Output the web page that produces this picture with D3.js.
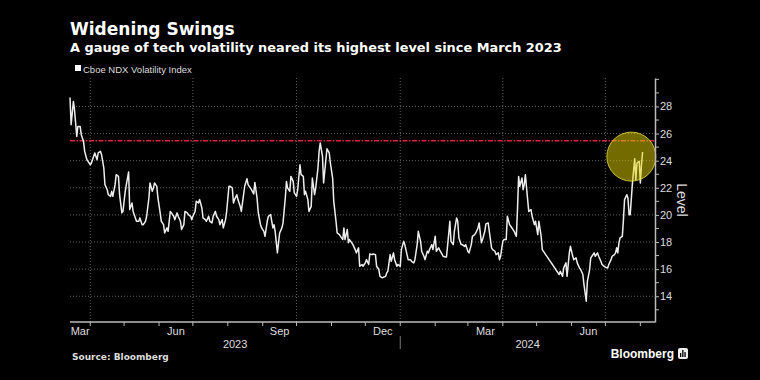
<!DOCTYPE html>
<html>
<head>
<meta charset="utf-8">
<script src="https://cdn.jsdelivr.net/npm/d3@7"></script>
<style>
  body { margin: 0; background: #000; }
  svg { display: block; font-family: "Liberation Sans", Arial, sans-serif; }
</style>
</head>
<body>
<div class="chart"></div>
<script>
// Cboe NDX Volatility Index
var dates = [
  "2023-03-14","2023-03-15","2023-03-17","2023-03-18","2023-03-20","2023-03-21","2023-03-23","2023-03-24","2023-03-26","2023-03-27",
  "2023-03-29","2023-03-30","2023-04-01","2023-04-02","2023-04-04","2023-04-05","2023-04-07","2023-04-08","2023-04-10","2023-04-11",
  "2023-04-13","2023-04-14","2023-04-16","2023-04-17","2023-04-19","2023-04-20","2023-04-21","2023-04-23","2023-04-24","2023-04-26",
  "2023-04-27","2023-04-29","2023-04-30","2023-05-02","2023-05-03","2023-05-05","2023-05-06","2023-05-08","2023-05-09","2023-05-11",
  "2023-05-12","2023-05-14","2023-05-15","2023-05-17","2023-05-18","2023-05-20","2023-05-21","2023-05-23","2023-05-24","2023-05-26",
  "2023-05-27","2023-05-28","2023-05-30","2023-05-31","2023-06-02","2023-06-03","2023-06-05","2023-06-06","2023-06-08","2023-06-09",
  "2023-06-11","2023-06-12","2023-06-14","2023-06-15","2023-06-17","2023-06-18","2023-06-20","2023-06-21","2023-06-23","2023-06-24",
  "2023-06-26","2023-06-27","2023-06-29","2023-06-30","2023-07-01","2023-07-03","2023-07-04","2023-07-06","2023-07-07","2023-07-09",
  "2023-07-10","2023-07-12","2023-07-13","2023-07-15","2023-07-16","2023-07-18","2023-07-19","2023-07-21","2023-07-22","2023-07-24",
  "2023-07-25","2023-07-27","2023-07-28","2023-07-30","2023-07-31","2023-08-02","2023-08-03","2023-08-05","2023-08-06","2023-08-07",
  "2023-08-09","2023-08-10","2023-08-12","2023-08-13","2023-08-15","2023-08-16","2023-08-18","2023-08-19","2023-08-21","2023-08-22",
  "2023-08-24","2023-08-25","2023-08-27","2023-08-28","2023-08-30","2023-08-31","2023-09-02","2023-09-03","2023-09-05","2023-09-06",
  "2023-09-08","2023-09-09","2023-09-10","2023-09-11","2023-09-12","2023-09-14","2023-09-16","2023-09-18","2023-09-19","2023-09-21",
  "2023-09-22","2023-09-23","2023-09-25","2023-09-26","2023-09-28","2023-09-29","2023-10-01","2023-10-02","2023-10-04","2023-10-05",
  "2023-10-07","2023-10-08","2023-10-09","2023-10-11","2023-10-12","2023-10-14","2023-10-15","2023-10-17","2023-10-18","2023-10-20",
  "2023-10-21","2023-10-22","2023-10-24","2023-10-25","2023-10-27","2023-10-28","2023-10-30","2023-10-31","2023-11-02","2023-11-03",
  "2023-11-05","2023-11-06","2023-11-08","2023-11-09","2023-11-11","2023-11-12","2023-11-13","2023-11-15","2023-11-16","2023-11-17",
  "2023-11-19","2023-11-20","2023-11-22","2023-11-23","2023-11-25","2023-11-26","2023-11-28","2023-11-29","2023-12-01","2023-12-02",
  "2023-12-04","2023-12-05","2023-12-07","2023-12-08","2023-12-10","2023-12-11","2023-12-13","2023-12-14","2023-12-16","2023-12-17",
  "2023-12-19","2023-12-20","2023-12-21","2023-12-23","2023-12-24","2023-12-26","2023-12-27","2023-12-29","2023-12-30","2024-01-01",
  "2024-01-02","2024-01-04","2024-01-05","2024-01-07","2024-01-08","2024-01-10","2024-01-11","2024-01-13","2024-01-14","2024-01-16",
  "2024-01-17","2024-01-19","2024-01-20","2024-01-22","2024-01-23","2024-01-25","2024-01-26","2024-01-27","2024-01-29","2024-01-30",
  "2024-02-01","2024-02-02","2024-02-04","2024-02-05","2024-02-07","2024-02-08","2024-02-10","2024-02-11","2024-02-13","2024-02-14",
  "2024-02-15","2024-02-17","2024-02-18","2024-02-20","2024-02-21","2024-02-22","2024-02-24","2024-02-25","2024-02-27","2024-02-28",
  "2024-03-01","2024-03-02","2024-03-04","2024-03-05","2024-03-07","2024-03-08","2024-03-10","2024-03-11","2024-03-13","2024-03-14",
  "2024-03-16","2024-03-17","2024-03-19","2024-03-20","2024-03-22","2024-03-23","2024-03-25","2024-03-26","2024-03-28","2024-03-29",
  "2024-03-30","2024-04-01","2024-04-02","2024-04-04","2024-04-05","2024-04-07","2024-04-08","2024-04-10","2024-04-11","2024-04-13",
  "2024-04-14","2024-04-15","2024-04-16","2024-04-18","2024-04-19","2024-04-20","2024-04-21","2024-04-23","2024-04-24","2024-04-26",
  "2024-04-27","2024-04-29","2024-04-30","2024-05-02","2024-05-03","2024-05-05","2024-05-06","2024-05-08","2024-05-09","2024-05-11",
  "2024-05-12","2024-05-14","2024-05-15","2024-05-17","2024-05-18","2024-05-19","2024-05-21","2024-05-22","2024-05-24","2024-05-25",
  "2024-05-27","2024-05-28","2024-05-30","2024-05-31","2024-06-02","2024-06-03","2024-06-05","2024-06-06","2024-06-08","2024-06-09",
  "2024-06-11","2024-06-12","2024-06-14","2024-06-15","2024-06-17","2024-06-18","2024-06-19","2024-06-21","2024-06-22","2024-06-24",
  "2024-06-25","2024-06-27","2024-06-28","2024-06-30","2024-07-01","2024-07-03","2024-07-04","2024-07-06","2024-07-07","2024-07-09",
  "2024-07-10","2024-07-11","2024-07-12","2024-07-13","2024-07-14","2024-07-16","2024-07-17","2024-07-18","2024-07-20","2024-07-21",
  "2024-07-22","2024-07-23","2024-07-25","2024-07-27","2024-07-28","2024-07-29","2024-07-31","2024-08-01","2024-08-02","2024-08-03"
];
var values = [
  28.66,26.65,28.37,27.76,25.79,26.53,26.53,25.92,25.42,24.69,
  24.07,23.95,23.70,23.83,24.32,24.57,24.07,24.57,24.69,24.44,
  23.46,22.23,21.86,21.49,21.37,21.74,21.37,22.23,22.97,22.84,
  21.49,20.15,20.26,21.74,22.23,23.17,20.39,20.88,20.26,19.78,
  19.53,19.53,19.78,19.28,19.28,19.53,19.90,21.25,22.36,21.74,
  21.99,22.36,22.11,21.25,20.15,19.53,19.28,18.67,19.04,18.79,
  20.26,20.15,19.90,19.65,20.15,19.90,19.53,18.92,19.28,20.26,
  20.15,20.02,19.90,19.65,19.90,20.26,21.00,20.88,21.13,20.51,
  19.78,19.65,19.53,19.90,19.53,19.41,19.90,20.26,19.90,19.65,
  19.28,19.65,19.04,19.65,20.26,22.11,22.11,21.99,20.88,21.13,
  21.49,21.13,20.63,20.26,21.49,22.11,22.67,22.23,21.99,21.86,
  21.55,22.40,21.20,20.20,19.28,19.04,18.79,18.42,19.53,19.90,
  20.02,19.53,19.04,19.28,18.79,17.20,18.67,19.04,19.41,21.25,
  22.47,21.99,21.74,22.84,22.47,21.62,21.37,21.86,23.70,22.97,
  22.84,21.49,21.74,21.13,20.26,20.63,22.72,21.49,21.99,23.46,
  24.69,25.30,24.32,22.36,24.07,24.88,24.57,23.83,22.72,21.00,
  19.53,18.67,18.55,18.42,18.18,19.04,18.18,18.92,17.94,18.18,
  17.94,17.81,17.44,17.20,17.57,16.21,16.34,16.21,16.46,16.70,
  16.34,17.12,17.07,17.12,17.07,16.21,15.97,15.47,15.36,15.40,
  15.47,15.72,15.84,17.07,16.58,17.20,16.70,16.21,16.34,16.21,
  17.44,18.05,17.81,17.07,16.70,16.70,16.58,16.46,16.70,17.81,
  18.79,18.05,17.32,16.95,16.70,17.32,17.20,17.44,17.81,17.44,
  18.42,17.32,17.57,17.40,17.10,16.95,16.90,16.90,18.60,19.53,
  18.05,17.81,18.79,19.78,19.53,18.30,17.81,17.81,17.68,17.81,
  17.32,17.20,17.81,18.42,18.55,18.67,19.04,19.41,17.94,18.18,
  18.79,19.34,19.41,18.79,17.57,17.44,17.32,17.07,17.20,16.70,
  16.95,18.05,18.18,18.18,19.90,19.28,19.16,18.92,18.79,18.42,
  20.39,22.84,22.11,22.72,21.86,22.23,22.97,21.13,20.26,20.39,
  19.90,19.28,19.53,18.55,19.53,18.42,17.44,17.20,17.07,16.83,
  16.70,16.46,16.34,16.09,15.97,15.84,15.60,15.84,15.47,16.09,
  16.46,15.47,17.20,17.68,16.95,16.70,16.83,16.46,16.09,15.97,
  15.60,14.86,13.63,15.10,15.97,16.83,16.95,17.20,16.95,17.20,
  16.95,16.58,16.34,16.21,16.14,16.09,16.34,16.70,16.95,17.07,
  17.20,17.57,17.20,17.94,18.30,18.42,19.65,21.13,21.49,21.25,
  20.02,20.02,22.36,24.15,22.60,23.83,23.95,22.36,23.70,24.64
];

var yTicks = [14, 16, 18, 20, 22, 24, 26, 28];
var yMinorTicks = [13, 15, 17, 19, 21, 23, 25, 27, 29, 30];
var refLevel = 25.47;            // dash-dot line, March 2023 level
var highlightDate = "2024-07-24"; // yellow circle
var highlightValue = 24.3;

var title = "Widening Swings";
var subtitle = "A gauge of tech volatility neared its highest level since March 2023";
var legendLabel = "Cboe NDX Volatility Index";
var axisTitle = "Level";
var source = "Source: Bloomberg";

var W = 760, H = 380;
var plot = {left: 70, right: 655, top: 78, bottom: 322};

var parse = d3.timeParse("%Y-%m-%d");
var data = dates.map(function(d, i){ return {date: parse(d), value: values[i]}; });

var xStart = new Date(2023, 2, 14), xEnd = new Date(2024, 7, 14);
var x = d3.scaleTime().domain([xStart, xEnd]).range([plot.left, plot.right]);
var y = d3.scaleLinear().domain([12.1, 30.1]).range([plot.bottom, plot.top]);

var svg = d3.select("div.chart").append("svg")
  .attr("width", W).attr("height", H)
  .attr("viewBox", `0 0 ${W} ${H}`);

svg.append("rect").attr("width", W).attr("height", H).attr("fill", "#000");

// titles
svg.append("text").attr("x", 70).attr("y", 35)
  .attr("fill", "#fff").attr("font-family", "DejaVu Sans").attr("font-weight", "bold")
  .attr("font-size", 17).text(title);
svg.append("text").attr("x", 70).attr("y", 51.5)
  .attr("fill", "#fff").attr("font-family", "DejaVu Sans").attr("font-weight", "bold")
  .attr("font-size", 12.9).text(subtitle);

// legend
svg.append("rect").attr("x", 75).attr("y", 65).attr("width", 6).attr("height", 6).attr("fill", "#fff");
svg.append("text").attr("x", 83).attr("y", 72.5).attr("fill", "#ddd")
  .attr("font-size", 9.5).text(legendLabel);

// grid
var grid = svg.append("g").attr("stroke", "#606060").attr("stroke-dasharray", "1,2").attr("stroke-width", 1);
grid.selectAll(".hgrid").data(yTicks).enter().append("line")
  .attr("x1", plot.left).attr("x2", plot.right)
  .attr("y1", d => y(d)).attr("y2", d => y(d));
var quarters = d3.timeMonth.every(3).range(xStart, xEnd);
grid.selectAll(".vgrid").data(quarters).enter().append("line")
  .attr("x1", d => x(d)).attr("x2", d => x(d))
  .attr("y1", plot.top).attr("y2", plot.bottom);

// reference level
svg.append("line")
  .attr("x1", plot.left).attr("x2", plot.right)
  .attr("y1", y(refLevel)).attr("y2", y(refLevel))
  .attr("stroke", "#d8243f").attr("stroke-width", 1.6)
  .attr("stroke-dasharray", "5,1.5,1.5,1.5");

// series
var line = d3.line().x(d => x(d.date)).y(d => y(d.value));
svg.append("path").datum(data)
  .attr("d", line)
  .attr("fill", "none").attr("stroke", "#eee")
  .attr("stroke-width", 1.5).attr("stroke-linejoin", "round");

// highlight circle
svg.append("circle")
  .attr("cx", x(parse(highlightDate))).attr("cy", y(highlightValue))
  .attr("r", 24.5)
  .attr("fill", "#e6d600").attr("fill-opacity", 0.5)
  .attr("stroke", "#e8dc40").attr("stroke-opacity", 0.8).attr("stroke-width", 1);

// right axis
var yAxis = svg.append("g").attr("transform", `translate(${plot.right},0)`)
  .call(d3.axisRight(y).tickValues(yTicks).tickSize(4).tickPadding(1).tickSizeOuter(0));
yAxis.select(".domain").attr("stroke", "#bbb").attr("stroke-width", 1.5);
yAxis.selectAll(".tick line").attr("stroke", "#bbb");
yAxis.selectAll(".tick text").attr("fill", "#ddd").attr("font-size", 11)
  .attr("font-family", "Liberation Sans, Arial, sans-serif");
yAxis.selectAll(".minor").data(yMinorTicks).enter().append("line")
  .attr("x1", 0).attr("x2", 4).attr("y1", d => y(d)).attr("y2", d => y(d))
  .attr("stroke", "#bbb");

svg.append("text")
  .attr("transform", "translate(677,200) rotate(90)")
  .attr("text-anchor", "middle").attr("fill", "#ddd").attr("font-size", 14)
  .text(axisTitle);

// bottom axis
var xAxis = svg.append("g");
xAxis.append("line")
  .attr("x1", plot.left).attr("x2", plot.right)
  .attr("y1", plot.bottom).attr("y2", plot.bottom)
  .attr("stroke", "#bbb").attr("stroke-width", 1.5);
var months = d3.timeMonth.range(xStart, xEnd);
xAxis.selectAll(".mtick").data(months).enter().append("line")
  .attr("x1", d => x(d)).attr("x2", d => x(d))
  .attr("y1", plot.bottom).attr("y2", plot.bottom + 4)
  .attr("stroke", "#bbb");

var labelMonths = d3.timeMonth.range(d3.timeMonth.floor(xStart), xEnd)
  .filter(d => d.getMonth() % 3 === 2);
var fmtMonth = d3.timeFormat("%b");
xAxis.selectAll(".mlabel").data(labelMonths).enter().append("text")
  .attr("x", d => (x(d3.max([d, xStart])) + x(d3.min([d3.timeMonth.offset(d, 1), xEnd]))) / 2)
  .attr("y", 335).attr("text-anchor", "middle")
  .attr("fill", "#ddd").attr("font-size", 11)
  .text(fmtMonth);

var years = [2023, 2024];
xAxis.selectAll(".ylabel").data(years).enter().append("text")
  .attr("x", d => (x(d3.max([new Date(d, 0, 1), xStart])) + x(d3.min([new Date(d + 1, 0, 1), xEnd]))) / 2)
  .attr("y", 347.5).attr("text-anchor", "middle")
  .attr("fill", "#ddd").attr("font-size", 11)
  .text(d => d);
xAxis.selectAll(".ydiv").data(years.slice(1)).enter().append("line")
  .attr("x1", d => x(new Date(d, 0, 1))).attr("x2", d => x(new Date(d, 0, 1)))
  .attr("y1", 336).attr("y2", 349)
  .attr("stroke", "#777");

// footer
svg.append("text").attr("x", 72).attr("y", 360)
  .attr("fill", "#ddd").attr("font-family", "DejaVu Sans").attr("font-weight", "bold")
  .attr("font-size", 9).text(source);

svg.append("text").attr("x", 674).attr("y", 358).attr("text-anchor", "end")
  .attr("fill", "#fff").attr("font-weight", "bold").attr("font-size", 12)
  .text("Bloomberg");
var logo = svg.append("g").attr("transform", "translate(678,348)");
logo.append("rect").attr("width", 10).attr("height", 11).attr("rx", 2).attr("fill", "#eee");
logo.selectAll(".bar").data([4, 7, 5]).enter().append("rect")
  .attr("x", (d, i) => 2 + i * 2.2).attr("y", d => 9 - d)
  .attr("width", 1.3).attr("height", d => d).attr("fill", "#000");
</script>
</body>
</html>
